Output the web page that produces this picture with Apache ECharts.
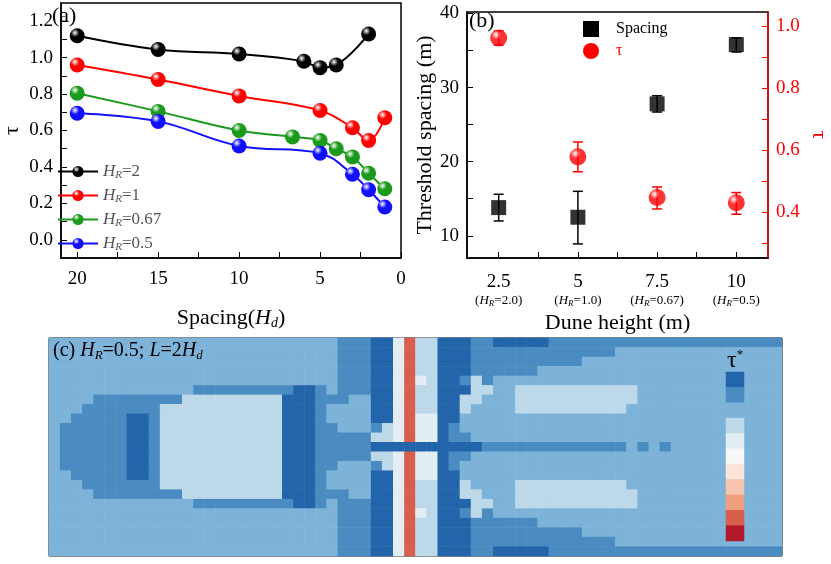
<!DOCTYPE html>
<html lang="en">
<head>
<meta charset="UTF-8">
<title>tau spacing</title>
<script src="https://cdn.jsdelivr.net/npm/echarts@6/dist/echarts.min.js"></script>
<style>
  *{margin:0;padding:0;}
  #box{width:831px;height:564px;background:#fff;}
</style>
</head>
<body>
<div id="box"></div>
<script>
// (a) tau vs spacing
let spacingHR2 = [20, 15, 10, 6, 5, 4, 2];
let tauHR2 = [1.12, 1.045, 1.02, 0.98, 0.945, 0.96, 1.13];
let spacingHR1 = [20, 15, 10, 5, 3, 2, 1];
let tauHR1 = [0.96, 0.88, 0.79, 0.71, 0.615, 0.545, 0.67];
let spacingHR067 = [20, 15, 10, 6.7, 5, 4, 3, 2, 1];
let tauHR067 = [0.805, 0.705, 0.60, 0.565, 0.545, 0.50, 0.455, 0.365, 0.28];
let spacingHR05 = [20, 15, 10, 5, 3, 2, 1];
let tauHR05 = [0.695, 0.65, 0.515, 0.475, 0.36, 0.275, 0.18];

// (b) threshold spacing and tau vs dune height
let duneHeight = [2.5, 5, 7.5, 10];
let hrLabels = ['2.0', '1.0', '0.67', '0.5'];
let thrSpacing = [13.8, 12.5, 27.8, 35.8];
let thrSpacingLow = [12.0, 8.9, 26.7, 34.8];
let thrSpacingHigh = [15.6, 16.0, 28.9, 36.7];
let thrTau = [0.962, 0.579, 0.448, 0.431];
let thrTauLow = [0.939, 0.531, 0.411, 0.394];
let thrTauHigh = [0.985, 0.627, 0.482, 0.464];

// (c) tau* contour levels, top half rows + centre row, run-length "level x count"
let tauStarRows = [
  '3x26 2x3 1x2 5x1 ax1 4x2 1x3 2x2 1x5 2x21',
  '3x26 2x3 1x2 5x1 ax1 4x2 1x3 2x13 3x15',
  '3x26 2x3 1x2 5x1 ax1 4x2 1x3 2x10 3x18',
  '3x26 2x3 1x2 5x1 ax1 4x2 1x3 2x6 3x22',
  '3x26 2x3 1x2 5x1 ax1 5x1 4x1 1x2 2x1 4x1 2x1 3x26',
  '3x13 2x9 1x2 2x1 3x1 2x3 1x2 5x1 ax1 4x2 1x3 4x2 3x2 4x11 3x13',
  '3x4 2x8 4x9 1x3 2x3 3x2 1x2 5x1 ax1 4x2 1x2 4x2 3x3 4x11 3x13',
  '3x3 2x7 4x11 1x3 2x1 3x4 1x2 5x1 ax1 4x2 1x2 4x1 3x4 4x10 3x14',
  '3x2 2x5 1x2 2x1 4x11 1x3 2x1 3x4 1x2 5x1 ax1 5x2 1x2 3x29',
  '3x1 2x6 1x2 2x1 4x11 1x3 2x2 3x3 2x1 4x1 5x1 ax1 5x2 1x1 2x1 3x29',
  '3x1 2x6 1x2 2x1 4x11 1x3 2x5 4x2 5x1 ax1 5x2 1x1 2x2 3x28'
];
let tauStarCentre = '3x1 2x6 1x2 2x1 4x11 1x3 2x5 1x10 2x13 3x1 2x1 3x1 2x1 3x10';
let levelColors = ['#2265ab', '#4a8bc2', '#7db3d8', '#bdd8e8', '#e3eef4', '#f7f7f7',
  '#fde6d9', '#f7c5ad', '#f0a07f', '#d6604d', '#b2182b'];
let barLevels = ['1', '2', '3', '4', '5', '6', '7', '8', '9', '10', '11'];
let barLabels = ['1', '', '3', '', '5', '', '7', '', '9', '', ''];

let chart = echarts.init(document.getElementById('box'));
let serif = 'Liberation Serif';

function ball(c) {
  return new echarts.graphic.RadialGradient(0.35, 0.3, 0.8, [
    {offset: 0, color: '#fff'}, {offset: 0.35, color: c}, {offset: 1, color: c}]);
}
function pairs(xs, ys) { return xs.map((x, i) => [x, ys[i]]); }

function expand(s) {
  let out = [];
  s.split(' ').forEach(t => {
    let [lv, n] = t.split('x');
    let v = lv === 'a' ? 10 : lv === 'b' ? 11 : +lv;
    for (let i = 0; i < +n; i++) out.push(v);
  });
  while (out.length < 66) out.push(3);
  return out.slice(0, 66);
}
let rows = tauStarRows.map(expand);
let allRows = rows.concat([expand(tauStarCentre)]).concat(rows.slice().reverse());
let heat = [];
allRows.forEach((r, j) => r.forEach((lv, i) => {
  heat.push({value: [i, j, lv], itemStyle: {color: levelColors[lv - 1]}});
}));
let barData = levelColors.map((c, i) => ({value: [0, i, i + 1], itemStyle: {color: c}}));

let lineSets = [
  ['HR2', '2', '#000', pairs(spacingHR2, tauHR2)],
  ['HR1', '1', '#f00', pairs(spacingHR1, tauHR1)],
  ['HR067', '0.67', '#1a9a1a', pairs(spacingHR067, tauHR067)],
  ['HR05', '0.5', '#1010ff', pairs(spacingHR05, tauHR05)]
];
let lineSeries = lineSets.map(s => ({
  name: s[0], type: 'line', xAxisIndex: 0, yAxisIndex: 0, smooth: 0.4,
  data: s[3], symbol: 'circle', symbolSize: 15,
  lineStyle: {color: s[2], width: 2}, itemStyle: {color: ball(s[2])}
}));

function errBar(color) {
  return function (params, api) {
    let x = api.value(0);
    let lo = api.coord([x, api.value(1)]);
    let hi = api.coord([x, api.value(2)]);
    let w = 5;
    let st = {stroke: color, lineWidth: 1.5};
    return {type: 'group', children: [
      {type: 'line', shape: {x1: lo[0], y1: lo[1], x2: hi[0], y2: hi[1]}, style: st},
      {type: 'line', shape: {x1: lo[0] - w, y1: lo[1], x2: lo[0] + w, y2: lo[1]}, style: st},
      {type: 'line', shape: {x1: hi[0] - w, y1: hi[1], x2: hi[0] + w, y2: hi[1]}, style: st}
    ]};
  };
}

let blackLine = {onZero: false, lineStyle: {color: '#000', width: 1.5}};

let option = {
  animation: false,
  textStyle: {fontFamily: serif},
  grid: [
    {left: 48, top: 3, width: 353, height: 255, show: true, borderColor: '#000', borderWidth: 1.5},
    {left: 467, top: 12, width: 307, height: 246, show: true, borderColor: '#000', borderWidth: 1.5},
    {left: 49, top: 338, width: 733, height: 218, show: true, borderColor: '#000', borderWidth: 1},
    {left: 726, top: 372, width: 18, height: 169}
  ],
  legend: [{
    data: lineSets.map(s => s[0]), left: 52, top: 158, orient: 'vertical',
    itemWidth: 40, itemHeight: 14, itemGap: 6,
    formatter: function (n) {
      let s = lineSets.find(t => t[0] === n);
      return '{i|H}{s|R}{n|=' + s[1] + '}';
    },
    textStyle: {rich: {
      i: {fontStyle: 'italic', fontSize: 17, fontFamily: serif},
      s: {fontStyle: 'italic', fontSize: 11, fontFamily: serif, padding: [8, 0, 0, 0]},
      n: {fontSize: 17, fontFamily: serif}
    }}
  }, {
    data: [
      {name: 'Spacing', icon: 'rect', itemStyle: {color: '#000'}},
      {name: 'τ', icon: 'circle', itemStyle: {color: '#f00'}, textStyle: {color: '#f00'}}
    ],
    left: 578, top: 16, orient: 'vertical',
    itemWidth: 16, itemHeight: 16, itemGap: 6,
    textStyle: {fontFamily: serif, fontSize: 16, color: '#000', padding: [0, 0, 0, 12]}
  }],
  xAxis: [
    {
      gridIndex: 0, type: 'value', min: 0, max: 21, inverse: true, interval: 5,
      name: '{a|Spacing(}{i|H}{s|d}{a|)}', nameLocation: 'middle', nameGap: 48,
      nameTextStyle: {rich: {
        a: {fontSize: 22, fontFamily: serif}, i: {fontSize: 22, fontStyle: 'italic', fontFamily: serif},
        s: {fontSize: 14, fontStyle: 'italic', fontFamily: serif, padding: [10, 0, 0, 0]}}},
      axisLine: blackLine, splitLine: {show: false},
      axisTick: {inside: true, length: 6, customValues: [0, 2.5, 5, 7.5, 10, 12.5, 15, 17.5, 20], lineStyle: {color: '#000'}},
      axisLabel: {color: '#000', fontFamily: serif, fontSize: 19, margin: 12}
    },
    {
      gridIndex: 1, type: 'value', min: 1.5, max: 11,
      name: 'Dune height (m)', nameLocation: 'middle', nameGap: 54,
      nameTextStyle: {fontSize: 22, fontFamily: serif, color: '#000'},
      axisLine: blackLine, splitLine: {show: false},
      axisTick: {inside: true, length: 6, customValues: [2.5, 3.75, 5, 6.25, 7.5, 8.75, 10], lineStyle: {color: '#000'}},
      axisLabel: {
        color: '#000', margin: 12, customValues: duneHeight,
        formatter: function (v) {
          let i = duneHeight.indexOf(v);
          return '{v|' + v + '}\n{p|(}{i|H}{s|R}{p|=' + hrLabels[i] + ')}';
        },
        rich: {
          v: {fontSize: 19, fontFamily: serif, lineHeight: 24},
          p: {fontSize: 13, fontFamily: serif},
          i: {fontSize: 13, fontStyle: 'italic', fontFamily: serif},
          s: {fontSize: 9, fontStyle: 'italic', fontFamily: serif, padding: [5, 0, 0, 0]}
        }
      }
    },
    {gridIndex: 2, type: 'category', data: [...Array(66).keys()], show: false},
    {gridIndex: 3, type: 'category', data: ['c'], show: false}
  ],
  yAxis: [
    {
      gridIndex: 0, type: 'value', min: -0.1, max: 1.3,
      name: 'τ', nameLocation: 'middle', nameGap: 38, nameRotate: 90,
      nameTextStyle: {fontSize: 22, fontFamily: serif, color: '#000'},
      axisLine: blackLine, splitLine: {show: false},
      axisTick: {inside: true, length: 6, customValues: [0, 0.1, 0.2, 0.3, 0.4, 0.5, 0.6, 0.7, 0.8, 0.9, 1.0, 1.1, 1.2], lineStyle: {color: '#000'}},
      axisLabel: {color: '#000', fontFamily: serif, fontSize: 19, customValues: [0, 0.2, 0.4, 0.6, 0.8, 1.0, 1.2],
        formatter: v => v.toFixed(1)}
    },
    {
      gridIndex: 1, type: 'value', min: 7, max: 40.2, position: 'left',
      name: 'Threshold spacing (m)', nameLocation: 'middle', nameGap: 30,
      nameTextStyle: {fontSize: 22, fontFamily: serif, color: '#000'},
      axisLine: blackLine, splitLine: {show: false},
      axisTick: {inside: true, length: 6, customValues: [10, 15, 20, 25, 30, 35, 40], lineStyle: {color: '#000'}},
      axisLabel: {color: '#000', fontFamily: serif, fontSize: 19, customValues: [10, 20, 30, 40]}
    },
    {
      gridIndex: 1, type: 'value', min: 0.253, max: 1.046, position: 'right',
      name: 'τ', nameLocation: 'middle', nameGap: 40, nameRotate: -90,
      nameTextStyle: {fontSize: 22, fontFamily: serif, color: '#f00'},
      axisLine: {show: true, onZero: false, lineStyle: {color: '#f00', width: 1.5}},
      axisTick: {inside: true, length: 6, customValues: [0.3, 0.4, 0.5, 0.6, 0.7, 0.8, 0.9, 1.0], lineStyle: {color: '#f00'}},
      splitLine: {show: false},
      axisLabel: {color: '#f00', fontFamily: serif, fontSize: 19, customValues: [0.4, 0.6, 0.8, 1.0],
        formatter: v => v.toFixed(1)}
    },
    {gridIndex: 2, type: 'category', data: [...Array(23).keys()], inverse: true, show: false},
    {gridIndex: 3, type: 'category', data: barLevels, inverse: true, position: 'right', show: true,
      axisLine: {show: false}, axisTick: {show: false},
      axisLabel: {show: true, interval: 0, color: '#000', fontFamily: serif, fontSize: 22, margin: 6,
        formatter: v => barLabels[barLevels.indexOf(v)]}}
  ],
  series: lineSeries.concat([
    {name: 'Spacing', type: 'custom', xAxisIndex: 1, yAxisIndex: 1,
      data: duneHeight.map((x, i) => [x, thrSpacingLow[i], thrSpacingHigh[i]]),
      renderItem: errBar('#000'), itemStyle: {color: '#000'}, z: 2},
    {name: 'τ', type: 'custom', xAxisIndex: 1, yAxisIndex: 2,
      data: duneHeight.map((x, i) => [x, thrTauLow[i], thrTauHigh[i]]),
      renderItem: errBar('#f00'), itemStyle: {color: '#f00'}, z: 2},
    {name: 'Spacing', type: 'scatter', xAxisIndex: 1, yAxisIndex: 1, symbol: 'rect', symbolSize: 15,
      data: pairs(duneHeight, thrSpacing), itemStyle: {color: '#000'}, z: 3},
    {name: 'τ', type: 'scatter', xAxisIndex: 1, yAxisIndex: 2, symbol: 'circle', symbolSize: 17,
      data: pairs(duneHeight, thrTau), itemStyle: {color: ball('#f00')}, z: 3},
    {type: 'heatmap', xAxisIndex: 2, yAxisIndex: 3, data: heat, itemStyle: {borderWidth: 0}},
    {type: 'heatmap', xAxisIndex: 3, yAxisIndex: 4, data: barData, itemStyle: {borderWidth: 0}}
  ]),
  graphic: [
    {type: 'text', left: 52, top: 5, style: {text: '(a)', font: '22px "Liberation Serif"', fill: '#000'}},
    {type: 'text', left: 469, top: 10, style: {text: '(b)', font: '22px "Liberation Serif"', fill: '#000'}},
    {type: 'text', left: 53, top: 341, z: 10, style: {
      text: '{a|(c) }{i|H}{s|R}{a|=0.5; }{i|L}{a|=2}{i|H}{s|d}',
      rich: {a: {fontSize: 20, fontFamily: serif}, i: {fontSize: 20, fontStyle: 'italic', fontFamily: serif},
        s: {fontSize: 13, fontStyle: 'italic', fontFamily: serif, padding: [10, 0, 0, 0]}}}},
    {type: 'text', left: 727, top: 348, z: 10, style: {
      text: '{t|τ}{u|*}', rich: {t: {fontSize: 24, fontFamily: serif}, u: {fontSize: 13, fontFamily: serif, padding: [0, 0, 12, 0]}}}}
  ]
};
chart.setOption(option);
</script>
</body>
</html>
